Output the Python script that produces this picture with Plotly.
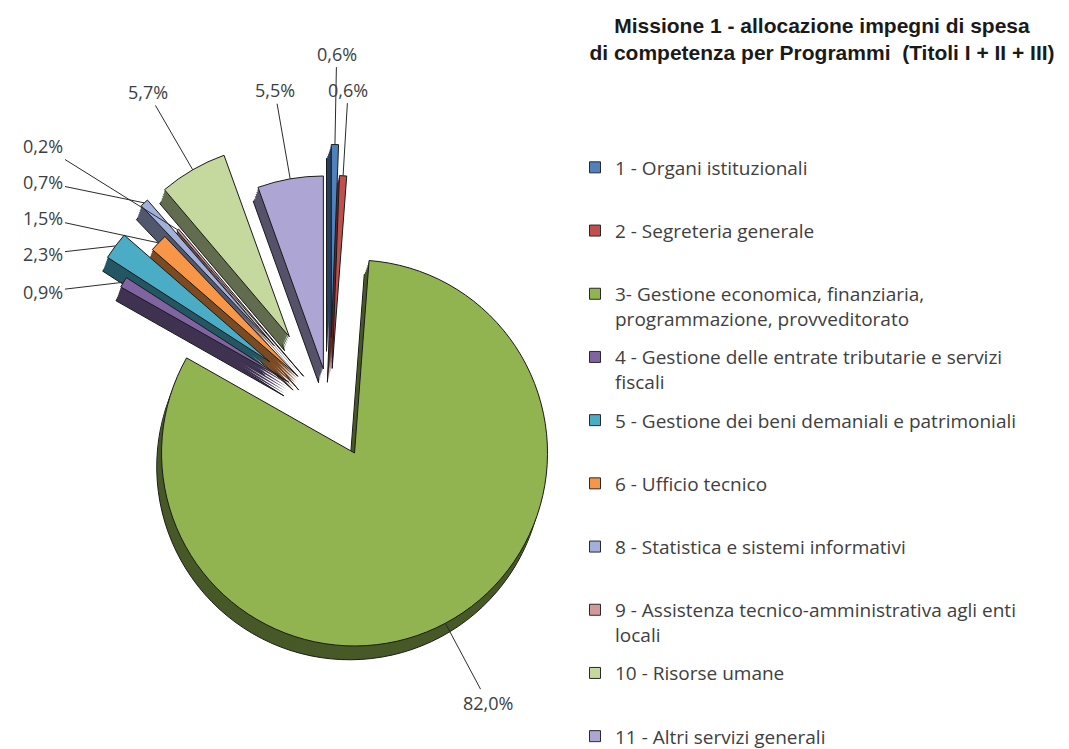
import math
import plotly.graph_objects as go

# ---------------- data ----------------
categories = [
    "1 - Organi istituzionali",
    "2 - Segreteria generale",
    "3- Gestione economica, finanziaria, programmazione, provveditorato",
    "4 - Gestione delle entrate tributarie e servizi fiscali",
    "5 - Gestione dei beni demaniali e patrimoniali",
    "6 - Ufficio tecnico",
    "8 - Statistica e sistemi informativi",
    "9 - Assistenza tecnico-amministrativa agli enti locali",
    "10 - Risorse umane",
    "11 - Altri servizi generali",
]
legend_labels = [
    "1 - Organi istituzionali",
    "2 - Segreteria generale",
    "3- Gestione economica, finanziaria,<br>programmazione, provveditorato",
    "4 - Gestione delle entrate tributarie e servizi<br>fiscali",
    "5 - Gestione dei beni demaniali e patrimoniali",
    "6 - Ufficio tecnico",
    "8 - Statistica e sistemi informativi",
    "9 - Assistenza tecnico-amministrativa agli enti<br>locali",
    "10 - Risorse umane",
    "11 - Altri servizi generali",
]
values = [0.6, 0.6, 82.0, 0.9, 2.3, 1.5, 0.7, 0.2, 5.7, 5.5]

title_text = ("<b>Missione 1 - allocazione impegni di spesa<br>"
              "di competenza per Programmi  (Titoli I + II + III)</b>")

# ---------------- style ----------------
colors = ["#4F81BD", "#C0504D", "#91B350", "#8064A2", "#4BACC6",
          "#F79646", "#A2B0DC", "#D29B9B", "#C5D89E", "#ADA5D3"]
pulls = [0.36, 0.20, 0.27, 0.25, 0.39, 0.23, 0.43, 0.21, 0.42, 0.20]

W, H = 1069, 749
R = 193                 # pie radius (px)
CX, CY = 330, 407       # pie centre (px)
half = R * (1 + max(pulls))
GAP = 90                # label distance beyond the rim (px)
SPACING = 36            # min vertical spacing between crowded labels
LABEL_W = 60            # horizontal extent considered for overlap
W_DOWN = 0.8            # blend between push-down / push-up layouts
COLUMN_UX = 0.6         # labels of mostly-horizontal slices form a column
label_font = dict(family="Open Sans", size=18, color="#3a3f44")


def dom(dx=0.0, dy=0.0):
    x0 = (CX - half + dx) / W
    x1 = (CX + half + dx) / W
    y0 = 1 - (CY + half + dy) / H
    y1 = 1 - (CY - half + dy) / H
    return dict(x=[x0, x1], y=[y0, y1])


def darken(hexcol, f):
    h = hexcol.lstrip("#")
    r, g, b = (int(h[i:i + 2], 16) for i in (0, 2, 4))
    return "#%02x%02x%02x" % (int(r * f), int(g * f), int(b * f))


dark_colors = [darken(c, 0.5) for c in colors]

fig = go.Figure()

# pseudo 3D depth: stacked darker pies
N = 6
for k in range(N, 0, -1):
    fig.add_trace(go.Pie(
        labels=categories, values=values, sort=False, direction="clockwise",
        rotation=0, pull=pulls, domain=dom(-0.8 * k, 2.3 * k),
        marker=dict(colors=dark_colors,
                    line=dict(color="#1a1a1a", width=1 if k == N else 0)),
        textinfo="none", hoverinfo="skip", showlegend=False,
    ))

# top face
fig.add_trace(go.Pie(
    labels=categories, values=values, sort=False, direction="clockwise",
    rotation=0, pull=pulls, domain=dom(),
    marker=dict(colors=colors, line=dict(color="#1a1a1a", width=1)),
    textinfo="none", hovertemplate="%{label}: %{percent:.1%}<extra></extra>",
    showlegend=False,
))

# ---------------- data labels with leader lines ----------------
total = sum(values)
geo = []
cum = 0.0
for i, (v, p) in enumerate(zip(values, pulls)):
    a0 = cum / total * 360
    cum += v
    a1 = cum / total * 360
    mid = math.radians((a0 + a1) / 2)
    ux, uy = math.sin(mid), -math.cos(mid)
    apx, apy = CX + p * R * ux, CY + p * R * uy
    geo.append(dict(i=i, ang=(a0 + a1) / 2, ux=ux,
                    rim=(apx + R * ux, apy + R * uy),
                    lab=[apx + (R + GAP) * ux, apy + (R + GAP) * uy]))

# side columns for labels of slices pointing mostly sideways
for sgn in (-1, 1):
    col = [g for g in geo if g["ux"] * sgn > COLUMN_UX]
    if col:
        xs = [g["lab"][0] for g in col]
        cx = min(xs) if sgn < 0 else max(xs)
        for g in col:
            g["lab"][0] = cx


def stack(items, down=True):
    placed = []
    out = {}
    for g in items:
        x, y = g["lab"]
        for _ in range(50):
            moved = False
            for (px, py) in placed:
                if abs(px - x) < LABEL_W and abs(py - y) < SPACING - 0.5:
                    y = py + SPACING if down else py - SPACING
                    moved = True
            if not moved:
                break
        placed.append((x, y))
        out[g["i"]] = y
    return out


for side in ("left", "right"):
    if side == "left":
        items = sorted([g for g in geo if g["ux"] < 0], key=lambda g: -g["ang"])
    else:
        items = sorted([g for g in geo if g["ux"] >= 0], key=lambda g: g["ang"])
    yd = stack(items, down=True)
    yu = stack(list(reversed(items)), down=False)
    for g in items:
        g["lab"][1] = W_DOWN * yd[g["i"]] + (1 - W_DOWN) * yu[g["i"]]

for g in geo:
    v = values[g["i"]]
    txt = ("%.1f%%" % (v / total * 100)).replace(".", ",")
    rx, ry = g["rim"]
    lx, ly = g["lab"]
    fig.add_annotation(
        xref="paper", yref="paper", x=rx / W, y=1 - ry / H,
        ax=lx - rx, ay=ly - ry, text=txt, font=label_font,
        showarrow=True, arrowhead=0, arrowwidth=1, arrowcolor="#2b2b2b",
        standoff=0, bgcolor="rgba(255,255,255,0)",
    )

# ---------------- legend entries ----------------
for i, lab in enumerate(legend_labels):
    last = i == len(legend_labels) - 1
    text = lab if ("<br>" in lab or last) else lab + "<br>\u00a0"
    fig.add_trace(go.Scatter(
        x=[None], y=[None], mode="markers", name=text,
        legendgroup="g%d" % i,
        marker=dict(symbol="square", size=11, color=colors[i],
                    line=dict(color="#2a2a2a", width=1)),
        hoverinfo="skip",
    ))

fig.update_layout(
    width=W, height=H,
    margin=dict(l=0, r=0, t=0, b=0, autoexpand=False),
    paper_bgcolor="white", plot_bgcolor="white",
    separators=",.",
    title=dict(text=title_text, x=822 / W, xanchor="center",
               y=1 - 33 / H, yanchor="top", yref="container",
               font=dict(family="Liberation Sans", size=21, color="#1a1a1a")),
    xaxis=dict(visible=False), yaxis=dict(visible=False),
    showlegend=True,
    legend=dict(x=575 / W, xanchor="left", y=1 - 148.5 / H, yanchor="top",
                traceorder="grouped", tracegroupgap=10.8, valign="top",
                font=dict(family="Open Sans", size=19, color="#404040"),
                bgcolor="rgba(0,0,0,0)"),
)

fig.write_html("out.html", config={"displayModeBar": False},
               post_script="document.body.style.margin='0';")
